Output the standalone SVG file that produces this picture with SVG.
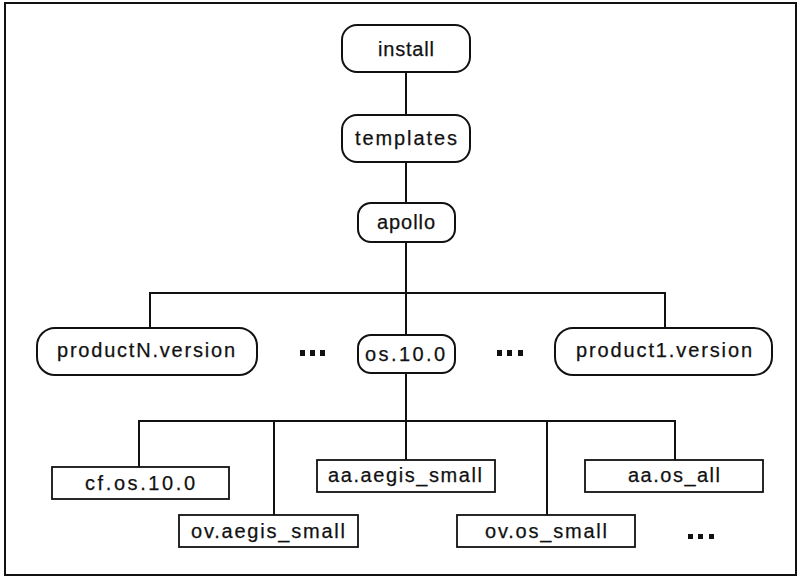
<svg xmlns="http://www.w3.org/2000/svg" width="799" height="577" viewBox="0 0 799 577">
<style>
.frame{fill:none;stroke:#111;stroke-width:2}
.rb{fill:#fff;stroke:#111;stroke-width:2}
.sb{fill:#fff;stroke:#111;stroke-width:1.8}
.ln{fill:none;stroke:#111;stroke-width:2}
.t{font-family:"Liberation Sans",Arial,sans-serif;font-size:20px;fill:#111;stroke:#111;stroke-width:0.25;text-anchor:middle}
.d{fill:#111}
</style>
<rect width="799" height="577" fill="#fff"/>
<rect class="frame" x="5" y="3" width="791" height="572"/>
<g id="connectors">
<line class="ln" x1="406" y1="72" x2="406" y2="115"/>
<line class="ln" x1="406" y1="162" x2="406" y2="203"/>
<line class="ln" x1="406" y1="242" x2="406" y2="335"/>
<polyline class="ln" points="150,328 150,293 665,293 665,328"/>
<line class="ln" x1="406" y1="373" x2="406" y2="460"/>
<polyline class="ln" points="139,467 139,421 675,421 675,460"/>
<line class="ln" x1="274" y1="421" x2="274" y2="515"/>
<line class="ln" x1="547" y1="421" x2="547" y2="515"/>
</g>
<g id="install"><rect class="rb" x="342" y="25" width="128" height="47" rx="15"/><text class="t" x="406" y="56" textLength="56" lengthAdjust="spacing">install</text></g>
<g id="templates"><rect class="rb" x="342" y="115" width="128" height="47" rx="15"/><text class="t" x="406" y="145" textLength="102" lengthAdjust="spacing">templates</text></g>
<g id="apollo"><rect class="rb" x="358" y="203" width="97" height="39" rx="13"/><text class="t" x="406" y="229" textLength="58" lengthAdjust="spacing">apollo</text></g>
<g id="productN"><rect class="rb" x="37" y="328" width="220" height="47" rx="18"/><text class="t" x="146" y="357" textLength="178" lengthAdjust="spacing">productN.version</text></g>
<g id="dots1"><rect class="d" x="300" y="350" width="5" height="6"/><rect class="d" x="310" y="350" width="5" height="6"/><rect class="d" x="320" y="350" width="5" height="6"/></g>
<g id="os10"><rect class="rb" x="358" y="335" width="97" height="38" rx="13"/><text class="t" x="405" y="361" textLength="80" lengthAdjust="spacing">os.10.0</text></g>
<g id="dots2"><rect class="d" x="497" y="350" width="5" height="6"/><rect class="d" x="507" y="350" width="5" height="6"/><rect class="d" x="518" y="350" width="5" height="6"/></g>
<g id="product1"><rect class="rb" x="555" y="328" width="217" height="47" rx="18"/><text class="t" x="664" y="357" textLength="176" lengthAdjust="spacing">product1.version</text></g>
<g id="cfos"><rect class="sb" x="52" y="467" width="177" height="32"/><text class="t" x="140" y="490" textLength="110" lengthAdjust="spacing">cf.os.10.0</text></g>
<g id="ovaegis"><rect class="sb" x="179" y="515" width="179" height="32"/><text class="t" x="268" y="538" textLength="154" lengthAdjust="spacing">ov.aegis_small</text></g>
<g id="aaaegis"><rect class="sb" x="317" y="460" width="178" height="32"/><text class="t" x="405" y="482" textLength="154" lengthAdjust="spacing">aa.aegis_small</text></g>
<g id="ovos"><rect class="sb" x="457" y="515" width="178" height="32"/><text class="t" x="546" y="538" textLength="122" lengthAdjust="spacing">ov.os_small</text></g>
<g id="aaos"><rect class="sb" x="585" y="460" width="178" height="32"/><text class="t" x="674" y="482" textLength="92" lengthAdjust="spacing">aa.os_all</text></g>
<g id="dots3"><rect class="d" x="688" y="534" width="5" height="5"/><rect class="d" x="698" y="534" width="5" height="5"/><rect class="d" x="709" y="534" width="5" height="5"/></g>
</svg>
